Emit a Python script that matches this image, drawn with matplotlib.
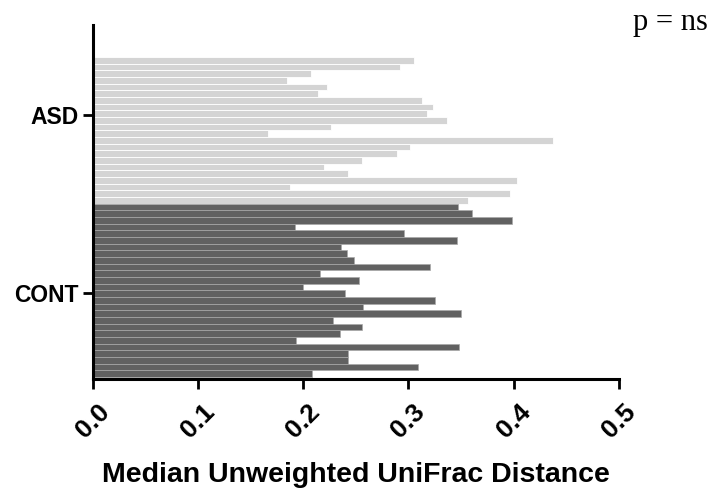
import matplotlib.pyplot as plt
import numpy as np

# median unweighted UniFrac distance per subject, listed top to bottom
asd = [0.305, 0.292, 0.207, 0.185, 0.223, 0.214, 0.313, 0.323, 0.318, 0.337,
       0.226, 0.167, 0.437, 0.301, 0.289, 0.256, 0.220, 0.243, 0.403, 0.187,
       0.396, 0.357]
cont = [0.347, 0.360, 0.398, 0.192, 0.296, 0.346, 0.236, 0.242, 0.248, 0.320,
        0.216, 0.253, 0.200, 0.240, 0.325, 0.257, 0.350, 0.228, 0.256, 0.235,
        0.193, 0.348, 0.243, 0.243, 0.309, 0.208]
groups = ["ASD", "CONT"]
x_ticks = [0.0, 0.1, 0.2, 0.3, 0.4, 0.5]

plt.rcParams['font.family'] = ['Liberation Sans', 'DejaVu Sans']

fig = plt.figure(figsize=(7.24, 4.9), dpi=100)
ax = fig.add_axes([0.128, 0.2265, 0.727, 0.7225])

n = len(asd) + len(cont)
pos = np.arange(n)[::-1]
ax.barh(pos[:len(asd)], asd, height=1.0, color='#d4d4d4',
        edgecolor='white', linewidth=0.6)
ax.barh(pos[len(asd):], cont, height=1.0, color='#616161',
        edgecolor='#a8a8a8', linewidth=0.5)

ax.set_xlim(0, 0.5)
ax.set_ylim(-0.8, 52.3)
ax.set_yticks([38.8, 12.1])
ax.set_yticklabels(groups, fontsize=16.5, fontweight='bold')
ax.set_xticks(x_ticks)
ax.set_xticklabels([f"{t:.1f}" for t in x_ticks], rotation=45, ha='center',
                   va='top', fontsize=19, fontweight='bold')
ax.tick_params(axis='both', direction='out', length=7, width=2, pad=3)
ax.tick_params(axis='x', pad=8)

for s in ['top', 'right']:
    ax.spines[s].set_visible(False)
for s in ['left', 'bottom']:
    ax.spines[s].set_linewidth(2.2)

ax.set_xlabel("Median Unweighted UniFrac Distance", fontsize=20.5,
              fontweight='bold', labelpad=14)

fig.text(0.874, 0.955, "p = ns", fontsize=22, family='Liberation Serif',
         va='center', ha='left')

fig.savefig("out.png", dpi=100)
